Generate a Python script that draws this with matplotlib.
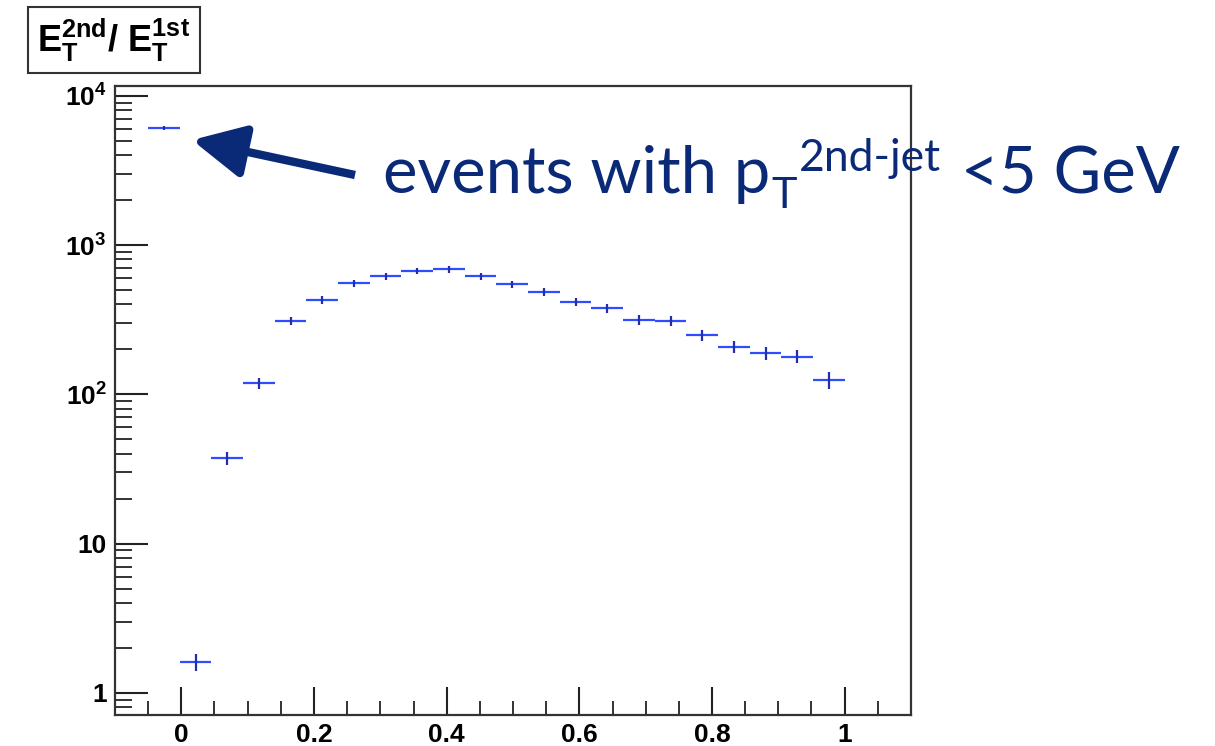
import numpy as np
import matplotlib
matplotlib.use("Agg")
import matplotlib.pyplot as plt
from matplotlib.ticker import FixedLocator, LogLocator, NullFormatter, FixedFormatter

plt.rcParams['font.family'] = ['Liberation Sans', 'DejaVu Sans']
plt.rcParams['mathtext.fontset'] = 'custom'
plt.rcParams['mathtext.rm'] = 'Liberation Sans'
plt.rcParams['mathtext.bf'] = 'Liberation Sans:bold'
plt.rcParams['mathtext.it'] = 'Liberation Sans:italic'

# histogram: 22 bins from -0.05 to 1.0
bin_lo = -0.05
bin_hi = 1.0
n_bins = 22
counts = [6100, 1.61, 37.3, 118.6, 310, 428, 556, 617, 670, 687, 620,
          545, 487, 417, 377, 315, 310, 250, 208, 188, 179, 125]
errors = [190, 0.21, 3.6, 9.5, 20, 26, 30, 34, 34, 34, 34,
          33, 29, 27, 26, 24, 23, 21, 19, 18, 18, 16]

x_ticks = [0, 0.2, 0.4, 0.6, 0.8, 1.0]
x_labels = ['0', '0.2', '0.4', '0.6', '0.8', '1']
y_ticks = [1, 10, 100, 1000, 10000]
y_labels = ['1', '10', r'$\mathbf{10^2}$', r'$\mathbf{10^3}$', r'$\mathbf{10^4}$']

width = (bin_hi - bin_lo) / n_bins
centers = bin_lo + width * (np.arange(n_bins) + 0.5)

W, H = 1215, 746
fig = plt.figure(figsize=(W / 100, H / 100), dpi=100)
ax = fig.add_axes([115 / W, 1 - 715 / H, (911 - 115) / W, (715 - 86) / H])

blue = '#2f4dff'
ax.errorbar(centers, counts, xerr=width / 2, fmt='none', ecolor=blue, elinewidth=1.6, capsize=0)
ax.errorbar(centers, counts, yerr=errors, fmt='none', ecolor='#1f2fb0', elinewidth=1.6, capsize=0)

ax.set_yscale('log')
ax.set_xlim(-0.1, 1.1)
ax.set_ylim(10 ** -0.148, 10 ** 4.065)

ax.xaxis.set_major_locator(FixedLocator(x_ticks))
ax.xaxis.set_major_formatter(FixedFormatter(x_labels))
ax.xaxis.set_minor_locator(FixedLocator(np.arange(-0.05, 1.1, 0.05)))
ax.yaxis.set_major_locator(FixedLocator(y_ticks))
ax.yaxis.set_major_formatter(FixedFormatter(y_labels))
ax.yaxis.set_minor_locator(LogLocator(base=10, subs=np.arange(2, 10)))
ax.yaxis.set_minor_formatter(NullFormatter())

ax.tick_params(axis='both', which='both', direction='in', top=False, right=False, color='#222222')
ax.tick_params(axis='x', which='major', length=20, width=1.5, labelsize=19, pad=6)
ax.tick_params(axis='x', which='minor', length=10, width=1.3)
ax.tick_params(axis='y', which='major', length=24, width=1.5, labelsize=19, pad=6)
ax.tick_params(axis='y', which='minor', length=12, width=1.3)
for lab in ax.get_xticklabels() + ax.get_yticklabels():
    lab.set_fontweight('bold')
for sp in ax.spines.values():
    sp.set_linewidth(1.6)
    sp.set_color('#333333')

# title box
fig.text(114 / W, 1 - 40 / H, r'$\mathbf{E_T^{2nd}/\ E_T^{1st}}$', fontsize=26,
         ha='center', va='center',
         bbox=dict(boxstyle='square,pad=0.25', facecolor='white', edgecolor='#333333', linewidth=1.5))

# annotation
navy = '#0a2a78'
ax.annotate('', xy=(192, H - 140), xycoords='figure pixels',
            xytext=(355, H - 175), textcoords='figure pixels',
            arrowprops=dict(arrowstyle='-|>,head_length=1.0,head_width=0.5', lw=6,
                            color=navy, mutation_scale=32, shrinkA=0, shrinkB=0,
                            capstyle='butt'))

fig.canvas.draw()
renderer = fig.canvas.get_renderer()
fs = 47
x0 = 383
base = H - 193
parts = [('events with p', fs, 0, 0), ('T', fs * 0.66, -15, 1), ('2nd-jet', fs * 0.68, 22, 2),
         ('<5 GeV', fs, 0, 20)]
for txt, size, dy, gap in parts:
    x0 += gap
    t = fig.text(x0 / W, (base + dy) / H, txt, fontsize=size, color=navy,
                 family=['Lato', 'DejaVu Sans'], ha='left', va='baseline')
    bb = t.get_window_extent(renderer)
    x0 = bb.x1

fig.savefig('out.png', dpi=100)
